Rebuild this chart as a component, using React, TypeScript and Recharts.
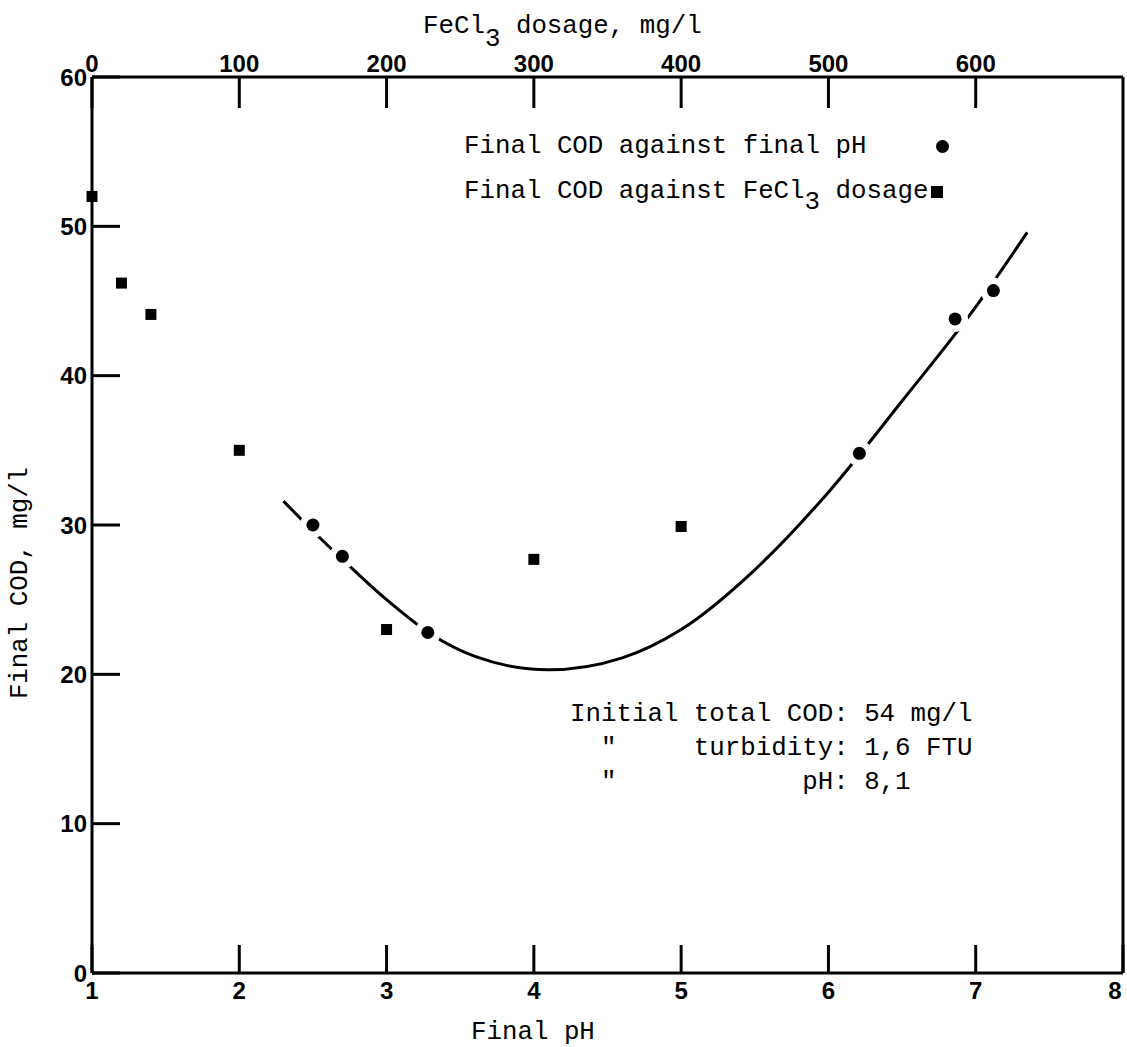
import React from 'react';
import { ComposedChart, Line, Scatter, XAxis, YAxis, Legend } from 'recharts';

// points: final COD against final pH
const phValues = [2.5, 2.7, 3.28, 6.21, 6.86, 7.12];
const phCod = [30.0, 27.9, 22.8, 34.8, 43.8, 45.7];

// points: final COD against FeCl3 dosage (mg/l)
const doseValues = [0, 20, 40, 100, 200, 300, 400];
const doseCod = [52.0, 46.2, 44.1, 35.0, 23.0, 27.7, 29.9];

// hand drawn trend line through the pH points
const curvePh = [2.3, 2.5, 2.7, 3.0, 3.3, 3.6, 4.1, 4.6, 5.0, 5.5, 6.0, 6.5, 7.0, 7.35];
const curveCod = [31.6, 29.6, 27.7, 25.0, 22.7, 21.2, 20.3, 21.1, 23.0, 27.0, 32.2, 38.3, 44.6, 49.6];

const phTicks = [1, 2, 3, 4, 5, 6, 7, 8];
const doseTicks = [0, 100, 200, 300, 400, 500, 600];
const codTicks = [0, 10, 20, 30, 40, 50, 60];

const noteLines = [
  'Initial total COD: 54 mg/l',
  '  "     turbidity: 1,6 FTU',
  '  "            pH: 8,1',
];

const phData = phValues.map((ph, i) => ({ ph, cod: phCod[i] }));
const doseData = doseValues.map((dose, i) => ({ dose, cod: doseCod[i] }));
const curveData = curvePh.map((ph, i) => ({ ph, cod: curveCod[i] }));

const MONO = '"Liberation Mono", "DejaVu Sans Mono", monospace';
const SANS = '"Liberation Sans", Arial, sans-serif';
const FS = 25.8;

const tickStyle = { fill: '#000', fontFamily: SANS, fontWeight: 700, fontSize: 24 };
const lineStyle = { stroke: '#000', strokeWidth: 3 };

// bottom tick labels; the last one sits just inside the frame
const PhTick = (p: any) => {
  const last = p.payload.value === phTicks[phTicks.length - 1];
  return (
    <text x={p.x - (last ? 8 : 0)} y={p.y} dy="0.71em" textAnchor="middle" {...tickStyle}>
      {p.payload.value}
    </text>
  );
};

const HaloDot = (p: any) => (
  <g>
    <circle cx={p.cx} cy={p.cy} r={13} fill="#fff" />
    <circle cx={p.cx} cy={p.cy} r={6.5} fill="#000" />
  </g>
);

const SquareDot = (p: any) => <rect x={p.cx - 5.5} y={p.cy - 5.5} width={11} height={11} fill="#000" />;

// writes "FeCl3" with a lowered 3
const withSub = (s: string) => {
  const i = s.indexOf('FeCl3');
  if (i < 0) return s;
  return (
    <>
      {s.slice(0, i + 4)}
      <span style={{ position: 'relative', top: 11 }}>3</span>
      {s.slice(i + 5)}
    </>
  );
};

const renderLegend = (props: any) => {
  const items = (props.payload || [])
    .filter((it: any) => it.type !== 'none')
    .sort((a: any, b: any) => (a.type === 'circle' ? -1 : 0) - (b.type === 'circle' ? -1 : 0));
  return (
    <div style={{ fontFamily: MONO, fontSize: FS, color: '#000' }}>
      {items.map((it: any, i: number) => (
        <div key={i} style={{ position: 'relative', height: 45, lineHeight: '45px', whiteSpace: 'pre' }}>
          {withSub(it.value)}
          {it.type === 'circle' ? (
            <span style={{ position: 'absolute', left: 472, top: 16, width: 13, height: 13, borderRadius: '50%', background: '#000' }} />
          ) : (
            <span style={{ position: 'absolute', left: 467, top: 17, width: 12, height: 12, background: '#000' }} />
          )}
        </div>
      ))}
    </div>
  );
};

export default function App() {
  return (
    <div style={{ position: 'absolute', left: 0, top: 0, width: 1127, height: 1047, background: '#fff' }}>
      <ComposedChart width={1127} height={1047} margin={{ top: 0, right: 0, bottom: 0, left: 0 }}>
        <XAxis
          xAxisId="ph"
          dataKey="ph"
          type="number"
          domain={[1, 8]}
          ticks={phTicks}
          interval={0}
          orientation="bottom"
          height={74}
          tickSize={-28}
          tickMargin={37}
          tick={PhTick}
          tickLine={lineStyle}
          axisLine={lineStyle}
          label={{
            content: () => (
              <text x={471} y={1039} fontFamily={MONO} fontSize={FS} fill="#000">Final pH</text>
            ),
          }}
        />
        <XAxis
          xAxisId="dose"
          dataKey="dose"
          type="number"
          domain={[0, 700]}
          ticks={doseTicks}
          interval={0}
          orientation="top"
          height={77}
          tickSize={-31}
          tickMargin={36}
          tick={tickStyle}
          tickLine={lineStyle}
          axisLine={lineStyle}
          label={{
            content: () => (
              <text x={423} y={33} fontFamily={MONO} fontSize={FS} fill="#000">
                FeCl<tspan dy={13}>3</tspan><tspan dy={-13}> dosage, mg/l</tspan>
              </text>
            ),
          }}
        />
        <YAxis
          yAxisId="cod"
          type="number"
          domain={[0, 60]}
          ticks={codTicks}
          interval={0}
          width={92}
          tickSize={-28}
          tickMargin={33}
          tick={tickStyle}
          tickLine={lineStyle}
          axisLine={lineStyle}
          label={{
            content: () => (
              <text transform="translate(27, 583) rotate(-90)" textAnchor="middle" fontFamily={MONO} fontSize={FS} fill="#000">
                Final COD, mg/l
              </text>
            ),
          }}
        />
        <YAxis yAxisId="frame" orientation="right" type="number" domain={[0, 60]} width={4} tick={false} tickLine={false} axisLine={lineStyle} />
        <Legend
          layout="vertical"
          align="center"
          verticalAlign="middle"
          content={renderLegend}
          wrapperStyle={{ position: 'absolute', left: 464, top: 124, width: 520 }}
        />
        <Line
          data={curveData}
          dataKey="cod"
          xAxisId="ph"
          yAxisId="cod"
          type="monotone"
          dot={false}
          stroke="#000"
          strokeWidth={3}
          legendType="none"
          isAnimationActive={false}
        />
        <Scatter
          name="Final COD against final pH"
          data={phData}
          dataKey="cod"
          xAxisId="ph"
          yAxisId="cod"
          legendType="circle"
          fill="#000"
          shape={HaloDot}
          isAnimationActive={false}
        />
        <Scatter
          name="Final COD against FeCl3 dosage"
          data={doseData}
          dataKey="cod"
          xAxisId="dose"
          yAxisId="cod"
          legendType="square"
          fill="#000"
          shape={SquareDot}
          isAnimationActive={false}
        />
      </ComposedChart>
      <div style={{ position: 'absolute', left: 570, top: 698, fontFamily: MONO, fontSize: FS, lineHeight: '34px', whiteSpace: 'pre', color: '#000' }}>
        {noteLines.map((l, i) => (
          <div key={i}>{l}</div>
        ))}
      </div>
    </div>
  );
}
